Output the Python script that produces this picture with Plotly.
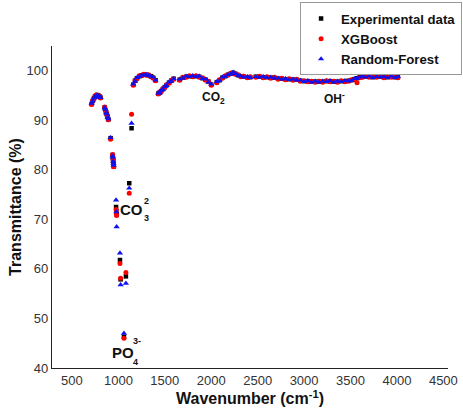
import plotly.graph_objects as go

wavenumber = [
    712, 724, 736, 748, 760, 772, 784, 796, 808,
    852, 860, 868, 876, 884, 892,
    916,
    938, 941, 944, 947, 950,
    975, 978, 981,
    1017, 1024,
    1060,
    1081,
    1117,
    1142,
    1160, 1180, 1200, 1225, 1250, 1275, 1300, 1325, 1350, 1375, 1400,
    1430, 1445, 1460, 1480, 1500, 1520, 1545, 1570, 1595,
    1660, 1695, 1730, 1765, 1800, 1835, 1870, 1905, 1940, 1970, 2000,
    2060, 2090, 2120, 2150, 2180, 2210, 2235, 2260, 2290, 2320, 2350,
    2390, 2420,
    2480, 2520, 2560, 2600, 2640, 2680,
    2720, 2760, 2800, 2840, 2880, 2920,
    2960, 3000, 3040, 3080, 3120, 3160, 3200, 3240, 3280,
    3320, 3360, 3400, 3440, 3480,
    3510, 3540, 3570, 3600, 3630,
    3660, 3700, 3740, 3780, 3820, 3860, 3900, 3940, 3980, 4010,
]

experimental = [
    93.3, 93.9, 94.4, 94.8, 95.0, 95.1, 95.0, 94.8, 94.6,
    92.6, 92.1, 91.6, 91.2, 90.7, 90.2,
    86.4,
    83.0, 82.4, 81.8, 81.2, 80.7,
    72.5, 71.6, 71.0,
    61.8, 57.9,
    46.3,
    58.5,
    77.3,
    88.4,
    97.2, 98.0, 98.5, 98.9, 99.1, 99.2, 99.2, 99.1, 98.9, 98.6, 98.1,
    95.4, 95.6, 95.9, 96.3, 96.7, 97.1, 97.6, 98.0, 98.4,
    98.2, 98.6, 98.8, 98.9, 98.9, 98.9, 98.8, 98.5, 98.2, 97.8, 97.2,
    97.7, 98.1, 98.6, 98.9, 99.2, 99.4, 99.6, 99.4, 99.1, 98.9, 98.8,
    98.7, 98.7,
    98.8, 98.8, 98.7, 98.7, 98.6, 98.6,
    98.4, 98.4, 98.3, 98.3, 98.2, 98.2,
    98.0, 97.9, 97.9, 97.8, 97.8, 97.8, 97.8, 97.9, 97.9,
    97.8, 97.8, 97.9, 97.9, 98.0,
    98.1, 98.3, 98.5, 98.7, 98.8,
    98.8, 98.8, 98.7, 98.8, 98.8, 98.7, 98.7, 98.8, 98.7, 98.7, 98.7,
]

xgboost = [
    93.2, 94.0, 94.3, 94.8, 95.1, 95.0, 95.0, 94.9, 94.5,
    92.7, 92.0, 91.7, 91.1, 90.8, 90.1,
    86.2,
    83.1, 82.3, 81.9, 81.0, 80.6,
    72.0, 71.3, 70.8,
    61.1, 58.1,
    46.0,
    59.3,
    75.3,
    91.2,
    97.1, 98.1, 98.4, 99.0, 99.0, 99.3, 99.1, 99.2, 98.8, 98.5, 98.0,
    95.3, 95.7, 95.8, 96.4, 96.6, 97.2, 97.5, 98.1, 98.3,
    98.1, 98.7, 98.7, 99.0, 98.8, 99.0, 98.7, 98.6, 98.1, 97.9, 97.1,
    97.6, 98.2, 98.5, 99.0, 99.1, 99.5, 99.5, 99.3, 99.2, 98.8, 98.9,
    98.6, 98.8,
    98.7, 98.9, 98.6, 98.8, 98.5, 98.7,
    98.3, 98.5, 98.2, 98.4, 98.1, 98.3,
    97.9, 98.0, 97.8, 97.9, 97.7, 97.9, 97.7, 98.0, 97.8,
    97.9, 97.7, 98.0, 97.8, 97.9,
    98.2, 98.2, 97.6, 98.6, 98.7,
    98.9, 98.7, 98.8, 98.7, 98.9, 98.6, 98.8, 98.7, 98.8, 98.6, 98.8,
]

random_forest = [
    93.4, 93.9, 94.5, 94.7, 95.0, 95.1, 94.9, 94.8, 94.6,
    92.5, 92.2, 91.5, 91.3, 90.6, 90.3,
    86.5,
    82.8, 82.5, 81.7, 81.3, 80.9,
    73.9, 71.5, 68.5,
    63.2, 56.8,
    47.0,
    57.1,
    76.3,
    89.4,
    97.3, 97.9, 98.6, 98.8, 99.1, 99.1, 99.2, 99.0, 98.9, 98.7, 98.1,
    95.5, 95.5, 96.0, 96.2, 96.8, 97.0, 97.7, 97.9, 98.4,
    98.3, 98.5, 98.9, 98.8, 99.0, 98.8, 98.9, 98.4, 98.3, 97.7, 97.3,
    97.8, 98.0, 98.7, 98.8, 99.2, 99.3, 99.7, 99.4, 99.0, 98.9, 98.7,
    98.8, 98.6,
    98.8, 98.7, 98.8, 98.6, 98.7, 98.5,
    98.5, 98.3, 98.4, 98.2, 98.3, 98.1,
    98.1, 97.8, 98.0, 97.7, 97.9, 97.7, 97.9, 97.8, 98.0,
    97.7, 97.9, 97.8, 98.0, 97.9,
    98.0, 98.4, 98.4, 98.7, 98.9,
    98.7, 98.9, 98.6, 98.8, 98.7, 98.8, 98.6, 98.9, 98.6, 98.8, 98.6,
]

x_ticks = [500, 1000, 1500, 2000, 2500, 3000, 3500, 4000, 4500]
y_ticks = [40, 50, 60, 70, 80, 90, 100]

FONT = "Arial, Liberation Sans, sans-serif"

fig = go.Figure()
fig.add_trace(go.Scatter(
    x=wavenumber, y=experimental, mode="markers", name="<b>Experimental data</b>",
    marker=dict(symbol="square", size=4.5, color="black"),
))
fig.add_trace(go.Scatter(
    x=wavenumber, y=xgboost, mode="markers", name="<b>XGBoost</b>",
    marker=dict(symbol="circle", size=5, color="#ff0000"),
))
fig.add_trace(go.Scatter(
    x=wavenumber, y=random_forest, mode="markers", name="<b>Random-Forest</b>",
    marker=dict(symbol="triangle-up", size=5.5, color="#1010f0"),
))

# (x, y, text, size)
labels = [
    (2025, 94.6, "<b>CO<sub>2</sub></b>", 12),
    (3330, 94.6, "<b>OH<sup>-</sup></b>", 12),
    (1146, 71.9, "<b>CO</b>", 15),
    (1300, 73.8, "<b>2</b>", 9),
    (1300, 70.2, "<b>3</b>", 9),
    (1054, 43.2, "<b>PO</b>", 15),
    (1205, 45.4, "<b>3-</b>", 9),
    (1185, 41.3, "<b>4</b>", 9),
]
for lx, ly, txt, sz in labels:
    fig.add_annotation(x=lx, y=ly, text=txt, showarrow=False,
                       font=dict(family=FONT, size=sz, color="#111"))

fig.update_layout(
    width=463, height=413,
    margin=dict(l=52, r=15, t=46, b=45, autoexpand=False),
    paper_bgcolor="white", plot_bgcolor="white",
    font=dict(family=FONT, size=13, color="#222"),
    showlegend=True,
    legend=dict(
        xref="container", yref="container",
        x=0.998, y=0.994, xanchor="right", yanchor="top",
        bordercolor="#999", borderwidth=1, bgcolor="white",
        font=dict(family=FONT, size=13.2, color="#111"),
        tracegroupgap=0, itemsizing="trace", itemwidth=30,
    ),
    xaxis=dict(
        range=[285, 4550], tickvals=x_ticks, ticks="", showgrid=False,
        zeroline=False, showline=True, linecolor="#222", linewidth=1.2,
        automargin=False,
        tickfont=dict(family=FONT, size=13, color="#333"),
        title=dict(text="<b>Wavenumber (cm<sup>-1</sup>)</b>", standoff=6,
                   font=dict(family=FONT, size=16, color="#111")),
    ),
    yaxis=dict(
        range=[40, 105], tickvals=y_ticks, ticks="", showgrid=False,
        zeroline=False, showline=True, linecolor="#222", linewidth=1.2,
        automargin=False,
        tickfont=dict(family=FONT, size=13, color="#333"),
        title=dict(text="<b>Transmittance (%)</b>", standoff=0,
                   font=dict(family=FONT, size=16, color="#111")),
    ),
)

fig.write_html("out.html", config={"displayModeBar": False},
               post_script="document.body.style.margin='0px';")
